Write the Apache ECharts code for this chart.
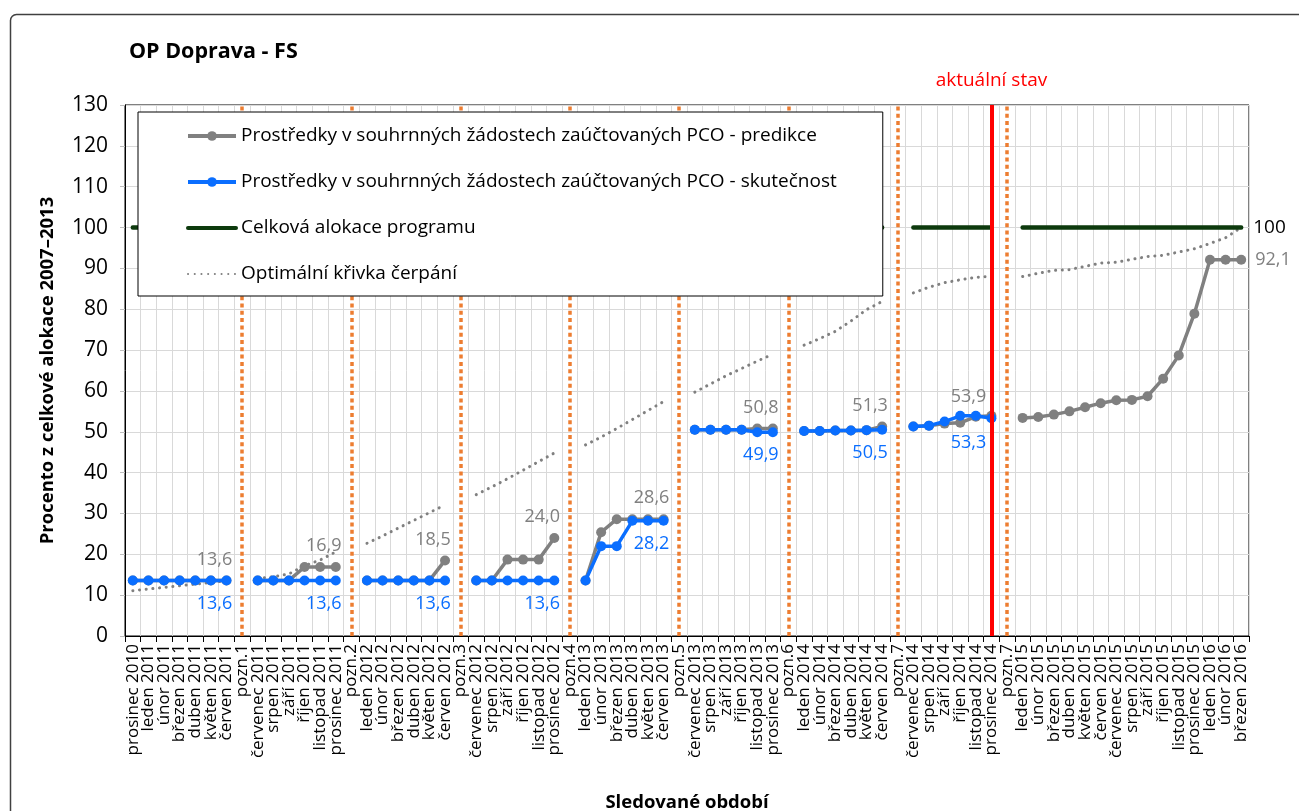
<!DOCTYPE html>
<html lang="cs">
<head>
<meta charset="UTF-8">
<title>OP Doprava - FS</title>
<script src="https://cdn.jsdelivr.net/npm/echarts@6/dist/echarts.min.js"></script>
<style>
  html, body { margin: 0; padding: 0; background: #fff; }
  #main { width: 1299px; height: 811px; }
</style>
</head>
<body>
<div id="main"></div>
<script>
// sledovane obdobi (pozn. = oddelovace obdobi)
var categories = [
  'prosinec 2010','leden 2011','únor 2011','březen 2011','duben 2011','květen 2011','červen 2011','pozn.1',
  'červenec 2011','srpen 2011','září 2011','říjen 2011','listopad 2011','prosinec 2011','pozn.2',
  'leden 2012','únor 2012','březen 2012','duben 2012','květen 2012','červen 2012','pozn.3',
  'červenec 2012','srpen 2012','září 2012','říjen 2012','listopad 2012','prosinec 2012','pozn.4',
  'leden 2013','únor 2013','březen 2013','duben 2013','květen 2013','červen 2013','pozn.5',
  'červenec 2013','srpen 2013','září 2013','říjen 2013','listopad 2013','prosinec 2013','pozn.6',
  'leden 2014','únor 2014','březen 2014','duben 2014','květen 2014','červen 2014','pozn.7',
  'červenec 2014','srpen 2014','září 2014','říjen 2014','listopad 2014','prosinec 2014','pozn.7',
  'leden 2015','únor 2015','březen 2015','duben 2015','květen 2015','červen 2015',
  'červenec 2015','srpen 2015','září 2015','říjen 2015','listopad 2015','prosinec 2015',
  'leden 2016','únor 2016','březen 2016'
];

// predikce (sede)
var predikce = [
  13.6,13.6,13.6,13.6,13.6,13.6,13.6, null,
  13.6,13.6,13.6,16.9,16.9,16.9, null,
  13.6,13.6,13.6,13.6,13.6,18.5, null,
  13.6,13.6,18.7,18.7,18.7,24.0, null,
  13.6,25.4,28.6,28.6,28.6,28.6, null,
  50.5,50.5,50.5,50.5,50.8,50.8, null,
  50.2,50.2,50.3,50.3,50.4,51.3, null,
  51.3,51.5,52.0,52.2,53.7,53.9, null,
  53.4,53.6,54.2,55.0,56.0,57.0,57.7,57.8,58.7,63.0,68.7,78.9,92.1,92.1,92.1
];

// skutecnost (modre)
var skutecnost = [
  13.6,13.6,13.6,13.6,13.6,13.6,13.6, null,
  13.6,13.6,13.6,13.6,13.6,13.6, null,
  13.6,13.6,13.6,13.6,13.6,13.6, null,
  13.6,13.6,13.6,13.6,13.6,13.6, null,
  13.6,22.0,22.0,28.2,28.2,28.2, null,
  50.5,50.5,50.5,50.5,49.9,49.9, null,
  50.2,50.2,50.3,50.3,50.4,50.5, null,
  51.3,51.5,52.5,53.9,53.9,53.3, null,
  null,null,null,null,null,null,null,null,null,null,null,null,null,null,null
];

// celkova alokace
var alokace = [
  100,100,100,100,100,100,100, null,
  100,100,100,100,100,100, null,
  100,100,100,100,100,100, null,
  100,100,100,100,100,100, null,
  100,100,100,100,100,100, null,
  100,100,100,100,100,100, null,
  100,100,100,100,100,100, null,
  100,100,100,100,100,100, null,
  100,100,100,100,100,100,100,100,100,100,100,100,100,100,100
];

// optimalni krivka cerpani
var optimalni = [
  11.1,11.5,11.9,12.3,12.7,13.1,13.5, null,
  14.1,14.5,15.2,17.2,18.6,20.6, null,
  22.7,24.5,26.4,28.3,30.2,32.1, null,
  34.6,36.5,38.5,40.6,42.7,44.8, null,
  46.8,48.7,50.8,53.0,55.2,57.4, null,
  59.7,61.7,63.7,65.5,67.3,69.0, null,
  71.2,72.8,74.6,77.1,79.9,81.9, null,
  84.0,85.4,86.5,87.2,87.8,88.1, null,
  88.0,88.8,89.5,89.7,90.5,91.3,91.5,92.2,92.9,93.2,94.0,94.8,96.1,97.5,100
];

var yTicks = [0, 10, 20, 30, 40, 50, 60, 70, 80, 90, 100, 110, 120, 130];
var poznIdx = [7, 14, 21, 28, 35, 42, 49, 56];
var labelIdx = [6, 13, 20, 27, 34, 41, 48, 55];
var aktualniIdx = 55;

var GRAY = '#808080', BLUE = '#0a6eff', GREEN = '#0d3a0d', ORANGE = '#ed7d31';
var FONT = 'Open Sans';

function fmt(p) { return p.value.toFixed(1).replace('.', ','); }

function withLabels(values, idxs, label, lastLabel) {
  return values.map(function (v, i) {
    if (idxs.indexOf(i) < 0 || v == null) return v;
    // popisek u aktualniho stavu je posunuty vic doleva (cervena cara)
    return { value: v, label: i === aktualniIdx ? lastLabel : label };
  });
}

var grayLabel = { show: true, position: 'top', offset: [-12, -2], color: GRAY, fontSize: 18, fontFamily: FONT, formatter: fmt };
var blueLabel = { show: true, position: 'bottom', offset: [-12, 4], color: BLUE, fontSize: 18, fontFamily: FONT, formatter: fmt };
var grayLabelAkt = Object.assign({}, grayLabel, { offset: [-23, 0] });
var blueLabelAkt = Object.assign({}, blueLabel, { offset: [-23, 6] });

var predData = withLabels(predikce, labelIdx, grayLabel, grayLabelAkt);
predData[predikce.length - 1] = { value: predikce[predikce.length - 1],
  label: { show: true, position: 'right', offset: [4, 0], color: GRAY, fontSize: 18, fontFamily: FONT, formatter: fmt } };
var skutData = withLabels(skutecnost, labelIdx, blueLabel, blueLabelAkt);

var markData = poznIdx.map(function (i) {
  return { xAxis: i, lineStyle: { color: ORANGE, width: 3.5, type: [4, 3.3], cap: 'butt' }, label: { show: false } };
});
markData.push({ xAxis: aktualniIdx, lineStyle: { color: '#ff0000', width: 4, type: 'solid' },
  label: { show: true, position: 'end', formatter: 'aktuální stav', color: '#ff0000', fontSize: 19, fontFamily: FONT, distance: 15 } });

var chart = echarts.init(document.getElementById('main'));
chart.setOption({
  animation: false,
  backgroundColor: '#fff',
  title: {
    text: 'OP Doprava - FS', left: 124, top: 36,
    textStyle: { fontFamily: FONT, fontSize: 21.5, fontWeight: 'bold', color: '#000' }
  },
  graphic: [{
    type: 'rect', left: 8, top: 12, silent: true,
    shape: { width: 1320, height: 830, r: 6 },
    style: { fill: 'none', stroke: '#404040', lineWidth: 1.5 }
  }],
  legend: {
    orient: 'vertical', left: 138, top: 112, z: 20,
    backgroundColor: '#fff', borderColor: '#000', borderWidth: 1,
    padding: [13, 46, 11, 48],
    itemWidth: 48, itemHeight: 12, itemGap: 24,
    textStyle: { fontFamily: FONT, fontSize: 19, color: '#000', lineHeight: 22 },
    data: [
      { name: 'Prostředky v souhrnných žádostech zaúčtovaných PCO - predikce', lineStyle: { width: 4 } },
      { name: 'Prostředky v souhrnných žádostech zaúčtovaných PCO - skutečnost', lineStyle: { width: 4 } },
      { name: 'Celková alokace programu', lineStyle: { width: 4 }, itemStyle: { opacity: 0 } },
      { name: 'Optimální křivka čerpání', itemStyle: { opacity: 0 } }
    ]
  },
  grid: {
    left: 125, right: 50, top: 105, bottom: 175, outerBoundsMode: 'none',
    show: true, borderColor: '#000', borderWidth: 1, backgroundColor: '#fff'
  },
  xAxis: {
    type: 'category', data: categories, boundaryGap: true,
    name: 'Sledované období', nameLocation: 'middle', nameGap: 157,
    nameTextStyle: { fontFamily: FONT, fontSize: 18.5, fontWeight: 'bold', color: '#000' },
    axisLine: { lineStyle: { color: '#000', width: 1 } },
    axisTick: { show: true, interval: 0, length: 6, lineStyle: { color: '#000' } },
    axisLabel: { interval: 0, rotate: 90, margin: 8, fontFamily: FONT, fontSize: 17, color: '#000' },
    splitLine: { show: true, interval: 0, lineStyle: { color: '#d9d9d9', width: 1 } }
  },
  yAxis: {
    type: 'value', min: yTicks[0], max: yTicks[yTicks.length - 1], interval: 10,
    name: 'Procento z celkové alokace 2007–2013', nameLocation: 'middle', nameGap: 68, nameRotate: 90,
    nameTextStyle: { fontFamily: FONT, fontSize: 18.5, fontWeight: 'bold', color: '#000' },
    axisLine: { show: true, lineStyle: { color: '#000' } },
    axisTick: { show: true, length: 5, lineStyle: { color: '#bfbfbf' } },
    axisLabel: { margin: 17, fontFamily: FONT, fontSize: 21, color: '#000' },
    splitLine: { show: true, lineStyle: { color: '#d9d9d9', width: 1 } }
  },
  series: [
    {
      name: 'Optimální křivka čerpání', type: 'line', data: optimalni,
      symbol: 'none', connectNulls: false, z: 2,
      lineStyle: { color: GRAY, width: 3, type: [0.1, 6.6], cap: 'round' },
      itemStyle: { color: GRAY }
    },
    {
      name: 'Celková alokace programu', type: 'line', data: alokace,
      symbol: 'none', connectNulls: false, z: 2,
      lineStyle: { color: GREEN, width: 4.5, cap: 'round' },
      itemStyle: { color: GREEN },
      endLabel: { show: true, formatter: '100', color: '#000', fontSize: 19, fontFamily: FONT, distance: 12 }
    },
    {
      name: 'Prostředky v souhrnných žádostech zaúčtovaných PCO - predikce', type: 'line', data: predData,
      symbol: 'circle', symbolSize: 10, connectNulls: false, z: 3,
      lineStyle: { color: GRAY, width: 3.5 },
      itemStyle: { color: GRAY },
      markLine: { silent: true, symbol: 'none', data: markData }
    },
    {
      name: 'Prostředky v souhrnných žádostech zaúčtovaných PCO - skutečnost', type: 'line', data: skutData,
      symbol: 'circle', symbolSize: 10, connectNulls: false, z: 4,
      lineStyle: { color: BLUE, width: 3.5 },
      itemStyle: { color: BLUE }
    }
  ]
});
</script>
</body>
</html>
